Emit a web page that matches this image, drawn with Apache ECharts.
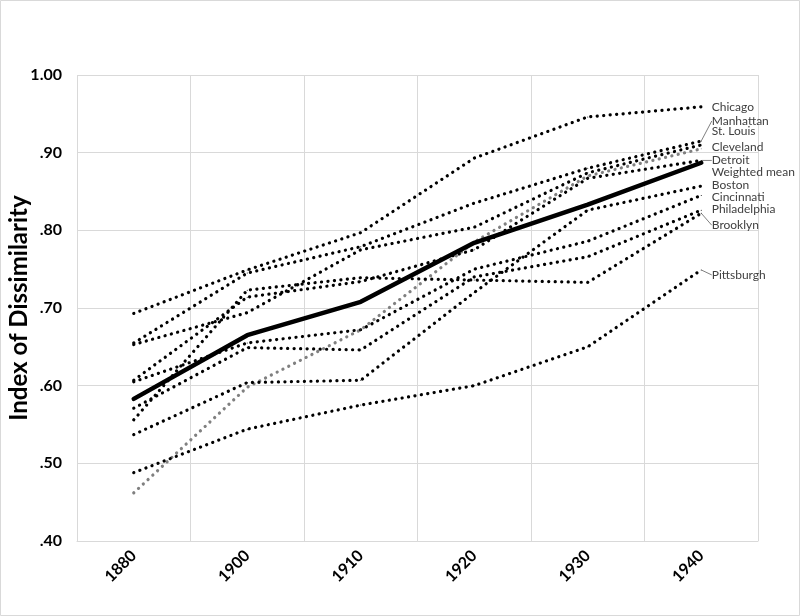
<!DOCTYPE html>
<html>
<head>
<meta charset="utf-8">
<script src="https://cdn.jsdelivr.net/npm/echarts@6/dist/echarts.min.js"></script>
<style>html,body{margin:0;padding:0;background:#fff}#c{width:800px;height:616px}</style>
</head>
<body>
<div id="c"></div>
<script>
// ---- data ----
const years = ['1880', '1900', '1910', '1920', '1930', '1940'];
const yTicks = [0.4, 0.5, 0.6, 0.7, 0.8, 0.9, 1.0];

const chicago      = [0.693, 0.749, 0.797, 0.893, 0.946, 0.959];
const manhattan    = [0.655, 0.745, 0.779, 0.835, 0.880, 0.915];
const stLouis      = [0.653, 0.694, 0.775, 0.804, 0.874, 0.910];
const cleveland    = [0.462, 0.598, 0.672, 0.785, 0.870, 0.905];
const detroit      = [0.607, 0.714, 0.734, 0.775, 0.867, 0.890];
const weightedMean = [0.583, 0.665, 0.708, 0.784, 0.833, 0.887];
const boston       = [0.537, 0.604, 0.607, 0.720, 0.826, 0.857];
const cincinnati   = [0.605, 0.655, 0.672, 0.750, 0.786, 0.845];
const philadelphia = [0.571, 0.649, 0.646, 0.740, 0.766, 0.826];
const brooklyn     = [0.556, 0.723, 0.739, 0.736, 0.733, 0.822];
const pittsburgh   = [0.488, 0.544, 0.575, 0.600, 0.650, 0.749];

const seriesList = [
  ['Chicago', chicago],
  ['Manhattan', manhattan],
  ['St. Louis', stLouis],
  ['Cleveland', cleveland],
  ['Detroit', detroit],
  ['Boston', boston],
  ['Cincinnati', cincinnati],
  ['Philadelphia', philadelphia],
  ['Brooklyn', brooklyn],
  ['Pittsburgh', pittsburgh],
  ['Weighted mean', weightedMean]
];

// ---- styles (label offsets, colours) ----
const labelDy = {
  'Chicago': 0, 'Manhattan': -20, 'St. Louis': -14, 'Cleveland': -2, 'Detroit': 0,
  'Weighted mean': 9, 'Boston': -1, 'Cincinnati': 2, 'Philadelphia': -1,
  'Brooklyn': 12, 'Pittsburgh': 5
};
const withLeader = { 'Manhattan': true, 'Detroit': true, 'Brooklyn': true, 'Pittsburgh': true };
const grayLines = { 'Cleveland': true };

const chart = echarts.init(document.getElementById('c'), null, { renderer: 'canvas' });

const series = seriesList.map(([name, vals]) => {
  const isMean = name === 'Weighted mean';
  const color = grayLines[name] ? '#808080' : '#000000';
  return {
    name: name,
    type: 'line',
    z: isMean ? 5 : 2,
    symbol: 'circle',
    symbolSize: 1,
    showSymbol: true,
    itemStyle: { color: color },
    lineStyle: isMean
      ? { color: '#000', width: 4.5, cap: 'round' }
      : { color: color, width: 3.2, type: [0.1, 6.4], cap: 'round' },
    label: {
      show: false,
      position: 'right',
      distance: 10,
      formatter: '{a}',
      color: '#404040',
      fontFamily: 'Lato',
      fontSize: 12
    },
    labelLine: {
      show: !!withLeader[name],
      lineStyle: { color: '#808080', width: 1 }
    },
    labelLayout: { dy: labelDy[name] },
    data: vals.map((v, i) => i === vals.length - 1 ? { value: v, label: { show: true } } : v),
    emphasis: { disabled: true }
  };
});

chart.setOption({
  animation: false,
  backgroundColor: '#fff',
  graphic: [{
    type: 'rect', shape: { x: 0.5, y: 0.5, width: 799, height: 615 },
    style: { fill: 'none', stroke: '#d9d9d9', lineWidth: 1 }, silent: true
  }],
  grid: { left: 77, right: 42, top: 75, bottom: 75, containLabel: false, outerBoundsMode: 'none' },
  xAxis: {
    type: 'category',
    data: years,
    boundaryGap: true,
    axisLine: { show: true, lineStyle: { color: '#d9d9d9', width: 1 } },
    axisTick: { show: false },
    splitLine: { show: true, lineStyle: { color: '#d9d9d9', width: 1 } },
    axisLabel: {
      rotate: 45, margin: 12,
      color: '#000', fontFamily: 'Lato', fontWeight: 'bold', fontSize: 16
    }
  },
  yAxis: {
    type: 'value',
    min: yTicks[0], max: yTicks[yTicks.length - 1], interval: 0.1,
    name: 'Index of Dissimilarity',
    nameLocation: 'middle',
    nameGap: 46,
    nameMoveOverlap: false,
    nameTextStyle: { color: '#000', fontFamily: 'Lato', fontWeight: 'bold', fontSize: 24 },
    axisLine: { show: false },
    axisTick: { show: false },
    splitLine: { show: true, lineStyle: { color: '#d9d9d9', width: 1 } },
    axisLabel: {
      margin: 15, color: '#000', fontFamily: 'Lato', fontWeight: 'bold', fontSize: 16,
      formatter: v => v >= 0.999 ? '1.00' : v.toFixed(2).replace(/^0/, '')
    }
  },
  series: series
});
</script>
</body>
</html>
